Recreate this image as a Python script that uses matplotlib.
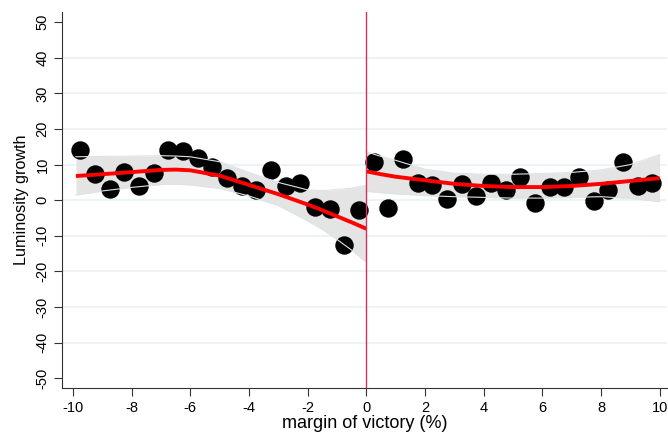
import matplotlib.pyplot as plt

plt.rcParams['font.family'] = ['Liberation Sans', 'DejaVu Sans']
plt.rcParams['axes.unicode_minus'] = False

# binned means, left of the cutoff
x_left = [-9.75, -9.25, -8.75, -8.25, -7.75, -7.25, -6.75, -6.25, -5.75, -5.25,
          -4.75, -4.25, -3.75, -3.25, -2.75, -2.25, -1.75, -1.25, -0.75, -0.25]
y_left = [14.0, 7.3, 3.1, 7.9, 3.9, 7.6, 14.0, 13.8, 11.8, 9.3,
          6.2, 3.9, 2.8, 8.4, 3.9, 4.8, -2.0, -2.5, -12.6, -2.8]

# binned means, right of the cutoff
x_right = [0.25, 0.75, 1.25, 1.75, 2.25, 2.75, 3.25, 3.75, 4.25, 4.75,
           5.25, 5.75, 6.25, 6.75, 7.25, 7.75, 8.25, 8.75, 9.25, 9.75]
y_right = [10.6, -2.3, 11.7, 4.7, 4.4, 0.3, 4.5, 1.2, 4.7, 2.9,
           6.4, -0.8, 3.7, 3.6, 6.5, -0.3, 2.8, 10.6, 3.9, 4.7]

# local polynomial fit and 95% band, left side
fx_left = [-9.9, -9, -8, -7, -6.5, -6, -5, -4, -3, -2, -1.5, -1, -0.5, 0]
fit_left = [6.8, 7.3, 7.9, 8.5, 8.6, 8.4, 6.9, 4.3, 1.7, -1.2, -2.8, -4.5, -6.2, -8.0]
hi_left = [12.2, 12.3, 12.4, 12.5, 12.4, 12.2, 10.8, 7.8, 5.0, 2.9, 2.7, 3.0, 3.4, 4.2]
lo_left = [1.4, 2.6, 3.6, 4.4, 4.5, 4.3, 3.3, 1.2, -1.5, -5.8, -8.2, -11.0, -14.0, -17.4]

# local polynomial fit and 95% band, right side
fx_right = [0, 0.5, 1, 2, 3, 4, 5, 6, 7, 8, 9, 10]
fit_right = [8.1, 7.3, 6.6, 5.6, 4.6, 4.0, 3.7, 3.7, 4.0, 4.6, 5.4, 6.2]
hi_right = [13.6, 12.3, 11.2, 8.7, 7.6, 7.3, 7.3, 7.5, 7.8, 8.5, 10.0, 12.8]
lo_right = [2.5, 2.1, 1.8, 1.3, 1.0, 0.8, 0.6, 0.6, 0.8, 1.0, 0.5, -0.4]

xticks = [-10, -8, -6, -4, -2, 0, 2, 4, 6, 8, 10]
yticks = [-50, -40, -30, -20, -10, 0, 10, 20, 30, 40, 50]

fig = plt.figure(figsize=(6.68, 4.32), dpi=100)
ax = fig.add_axes([0.093, 0.101, 0.905, 0.871])

for y in yticks[1:-1]:
    ax.axhline(y, color='#e9f1f3', lw=1.2, zorder=0)

for fx, lo, hi in [(fx_left, lo_left, hi_left), (fx_right, lo_right, hi_right)]:
    ax.fill_between(fx, lo, hi, color='#e4e4e4', lw=0, zorder=1)

ax.scatter(x_left, y_left, s=150, color='black', zorder=2)
ax.scatter(x_right, y_right, s=150, color='black', zorder=2)

for fx, lo, hi in [(fx_left, lo_left, hi_left), (fx_right, lo_right, hi_right)]:
    ax.plot(fx, lo, color='#d9e5e8', lw=0.8, zorder=3)
    ax.plot(fx, hi, color='#d9e5e8', lw=0.8, zorder=3)

ax.plot(fx_left, fit_left, color='#ff0000', lw=2.8, zorder=4, solid_capstyle='butt')
ax.plot(fx_right, fit_right, color='#ff0000', lw=2.8, zorder=4, solid_capstyle='butt')

ax.axvline(0, color='#d9305a', lw=1.0, zorder=5)

ax.set_xlim(-10.37, 10.24)
ax.set_ylim(-52.8, 52.8)
ax.set_xticks(xticks)
ax.set_yticks(yticks)
ax.set_yticklabels([str(v) for v in yticks], rotation=90, va='center')
ax.tick_params(axis='both', labelsize=10.5, length=5.5, width=0.8, color='#333333')
ax.tick_params(axis='y', pad=3.5)
ax.tick_params(axis='x', pad=3.5)

for side in ['top', 'right']:
    ax.spines[side].set_visible(False)
for side in ['left', 'bottom']:
    ax.spines[side].set_color('#333333')
    ax.spines[side].set_linewidth(0.8)

ax.set_xlabel('margin of victory (%)', fontsize=13, labelpad=0)
ax.set_ylabel('Luminosity growth', fontsize=11.6, labelpad=5)

fig.savefig('out.png', dpi=100)
